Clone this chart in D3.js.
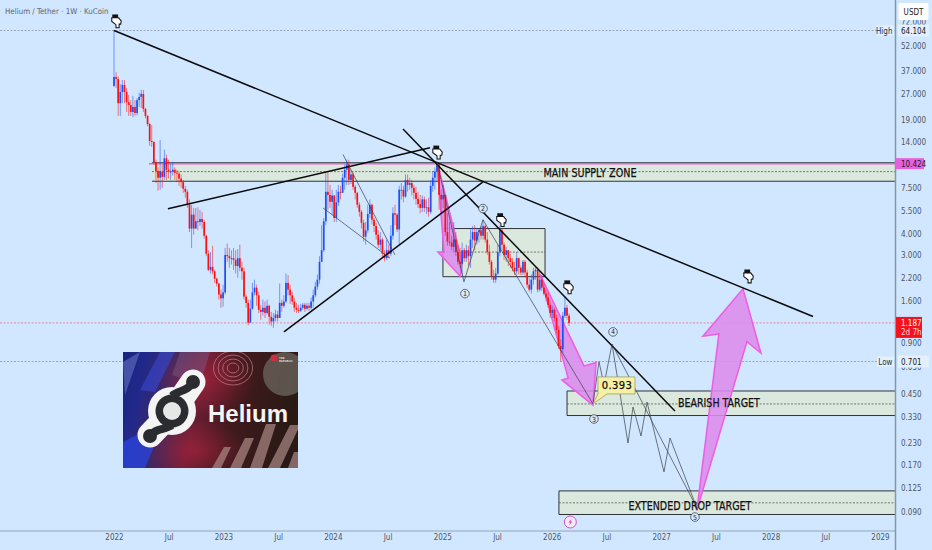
<!DOCTYPE html>
<html><head><meta charset="utf-8">
<script src="https://cdn.jsdelivr.net/npm/d3@7/dist/d3.min.js"></script>
<style>html,body{margin:0;padding:0;background:#d1e7ff;overflow:hidden}svg{display:block}</style>
</head><body><svg id="c" width="932" height="550"></svg>
<script>
const firstOpen = 30.1;
const closes = [34,33.1,23.8,27.7,30.5,27.7,24.1,23.2,21.1,22.6,20.8,24.8,25.9,27,22,20,17.9,14.2,14,10.6,
9.45,8.6,9.35,8.7,11.2,9.6,9.35,9.35,9.6,9.2,9.1,8.5,8.1,7.4,7.1,5.95,4.3,5.2,4.3,4.75,
4.7,4.9,4.7,3.9,3.05,2.45,2.55,2.4,2.17,2.03,1.75,1.66,1.8,3,2.95,2.87,2.87,2.8,2.58,2.87,
2.52,2.4,1.7,1.56,1.19,1.44,1.8,1.92,1.73,1.42,1.38,1.46,1.36,1.5,1.29,1.21,1.27,1.33,1.27,1.56,
1.5,1.59,2.05,1.87,1.73,1.59,1.46,1.42,1.4,1.46,1.52,1.44,1.5,1.46,1.59,1.73,1.95,2.14,2.73,3.2,
4.75,7.1,6.8,6.2,6.75,4.97,6.15,7.1,7,8.6,9.6,10.3,8.35,9,7.6,7,5.95,5.4,4.65,3.85,
4.2,5.25,5.95,4.85,4.45,3.95,3.45,3.7,3.05,2.87,3.2,3.05,3.9,5.3,5.2,4.25,7.3,7.3,6.65,8.35,
7.8,8,7.5,7,6.45,6,5.7,6.4,5.7,5.75,5.4,7.7,8.6,9.35,10.3,6.8,6.4,6.8,4.1,3.6,
3.55,3.35,3.7,3.12,2.73,2.66,3.2,2.87,3.2,2.95,3.7,4.1,3.65,4.1,4.2,3.9,4.45,3.7,3.12,2.73,
2.23,2.14,2.33,3.12,4.2,3.45,3,3.2,2.87,2.73,2.52,2.4,2.87,2.52,2.36,2.73,2.36,2,1.87,2.14,
2.4,2.45,1.87,2.14,1.92,1.77,1.68,1.52,1.36,1.42,1.27,1.08,0.865,0.83,1.31,1.46,1.31,1.187];
const highs = [64.104,36.3,34.3,30.9,32.6,32.6,29.3,26.6,24.8,26.3,24.8,25.5,27.4,28.5,28.5,22.3,20.2,18.2,17.7,14.2,
11,9.9,14.4,10.3,12.6,11.8,11,10.5,10.7,9.9,9.6,9.35,9,8.35,7.7,7.3,6.4,5.95,5.7,5.7,
5.75,5.55,5.4,4.85,3.95,3.2,3.12,3.4,2.45,2.2,2.05,1.87,2,3.3,3.5,3.3,3.2,3.3,3.2,3.25,
3.45,2.73,2.52,1.75,1.63,1.63,2.05,2.14,2,1.82,1.52,1.63,1.59,1.63,1.52,1.38,1.36,1.42,1.4,2.03,
1.63,1.73,2.33,2.28,2,1.82,1.68,1.56,1.52,1.54,1.56,1.56,1.56,1.56,1.68,1.87,2.08,2.3,2.95,4.5,
4.97,9.35,9.35,7.8,7.3,6.8,7.3,7.8,7.7,9.1,10.3,11,11,9.6,9.2,7.8,7.1,6.15,5.55,4.85,
4.7,5.95,6.4,6.05,4.97,4.65,4.2,4.1,3.8,3.2,3.7,3.45,4.5,5.75,5.95,5.3,7.7,8,7.7,9,
9,8.6,8.35,7.8,7.6,7.1,6.8,6.75,6.65,6.4,6.55,8.35,9.35,9.9,10.6,10.424,7.3,7.8,6.4,5.3,
4.7,3.9,4.7,4.1,3.45,3.3,3.55,3.3,3.45,3.4,4.3,4.45,4.5,4.3,4.3,4.45,4.85,4.55,4.1,3.45,
2.8,2.45,2.52,3.45,4.45,4.3,3.55,3.35,3.2,3.05,2.87,2.73,3.12,2.9,2.6,2.8,2.8,2.45,2.2,2.3,
2.52,2.52,2.52,2.4,2.28,2.03,1.87,1.8,1.59,1.5,1.46,1.33,1.14,0.95,1.38,1.7,1.52,1.35];
const lows = [29.7,29.3,20,20,23.8,23.8,21.1,20,20,19.7,20,20.2,22.6,22.3,21.1,19.4,17.4,13.3,13.1,10.3,
8,7.2,7.3,7.5,8.35,8.35,8.5,8.35,8.85,8.35,8.1,7.7,7.5,7,6.55,5.7,4.1,3.3,3.95,4.3,
4.2,4.45,4.3,3.75,2.95,2.4,2.33,2.3,2.05,1.95,1.63,1.46,1.48,1.75,2.73,2.52,2.63,2.45,2.33,2.2,
2.4,2.14,1.63,1.46,1.15,1.24,1.42,1.73,1.5,1.36,1.24,1.31,1.27,1.33,1.16,1.14,1.11,1.21,1.21,1.27,
1.38,1.46,1.56,1.73,1.54,1.52,1.38,1.36,1.36,1.38,1.42,1.38,1.42,1.4,1.42,1.46,1.68,1.87,2.03,2.73,
3.12,4.5,5.55,5.7,5.2,4.7,4.7,5.85,6.4,7.1,7.3,7.8,7.8,7.9,7.3,6.4,5.7,5.05,4.3,3.6,
3.45,4.05,4.97,4.55,4.1,3.7,3.3,3.2,2.9,2.75,2.8,2.87,2.95,3.7,4.5,4.1,3.45,6.4,6.15,6.55,
7.1,7.3,6.75,6.4,5.95,5.7,5.3,5.4,5.4,5.25,5.05,5.25,7.1,7.3,8.1,5.55,5.4,5.7,3.9,3.4,
3.4,3.2,3.12,2.95,2.63,2.52,2.23,2.73,2.73,2.58,2.52,3.3,3.2,3.45,3.55,3.7,3.7,3.55,3,2.63,
2.14,2.05,2.05,2.28,2.95,3.2,2.8,2.73,2.58,2.52,2.4,2.28,2.3,2.3,2.28,2.28,2.2,1.92,1.82,1.77,
2,2.14,1.8,1.82,1.84,1.73,1.59,1.46,1.27,1.27,1.21,1.03,0.83,0.701,0.79,1.27,1.24,1.14];

const priceTicks = [72,52,37,27,19,14,7.5,5.5,4,3,2.2,1.6,0.9,0.65,0.45,0.33,0.23,0.17,0.125,0.09];
const timeTicks = [2022,2022.5,2023,2023.5,2024,2024.5,2025,2025.5,2026,2026.5,2027,2027.5,2028,2028.5,2029];
const timeLabels = ["2022","Jul","2023","Jul","2024","Jul","2025","Jul","2026","Jul","2027","Jul","2028","Jul","2029"];
const high = 64.104, low = 0.701, last = 1.187, supply = 10.424;

const heavyLines = [
 [[2022,64.104],[2028.388,1.295]],
 [[2022.493,5.63],[2024.888,12.95]],
 [[2023.553,1.05],[2025.372,8.12]],
 [[2024.641,16.7],[2027.126,0.3566]]];
const thinLines = [
 [[2023.91,5.7],[2024.522,2.87]],
 [[2024.093,11.8],[2024.568,3.0]],
 [[2024.952,10.7],[2025.198,2.08],[2025.372,4.85],[2026.377,0.393],[2026.432,0.70],[2026.478,0.509],[2026.551,0.89],[2026.697,0.2307],[2026.743,0.377],[2026.816,0.2537],[2026.871,0.403],[2027.026,0.1555],[2027.081,0.247],[2027.327,0.0949]],
 [[2026.551,0.89],[2027.327,0.0949]]];
const arrows = [
 [[2024.952,10.7],[2025.18,2.73],[2025.162,2.25],[2024.961,3.12],[2025.016,3.12]],
 [[2025.893,2.3],[2026.295,0.66],[2026.405,0.69],[2026.377,0.387],[2026.094,0.545],[2026.15,0.56]],
 [[2027.327,0.0925],[2027.528,1.02],[2027.382,0.99],[2027.748,1.89],[2027.912,0.787],[2027.784,0.92]]];
const zoneStart = [2022.347,2025.006,2026.14,2026.066];
const zoneEnd   = [2029.137,2025.939,2029.137,2029.137];
const zoneTop   = [10.55,4.3,0.469,0.12];
const zoneBot   = [8.2,2.23,0.3356,0.087];
const zoneMid   = [9.35,3.12,0.393,0.102];
const zoneNames = ["MAIN SUPPLY ZONE","","BEARISH TARGET","EXTENDED DROP TARGET"];
const nameAt = [[2026.35,9.15],null,[2027.528,0.4],[2027.263,0.0976]];
const nameWidths = [93,0,82,123];
const waveNames = ["1","2","3","4","5"];
const waveAt = [[2025.207,1.77],[2025.372,5.65],[2026.386,0.32],[2026.56,1.05],[2027.309,0.084]];
const handsAt = [[2022.018,73],[2024.952,12.2],[2025.536,4.85],[2026.149,1.94],[2027.794,2.25]];

const svg = d3.select("#c");
const x = d3.scaleLinear().domain([2022,2029]).range([114,880]);
const y = d3.scaleLog().domain([64.104,0.09]).range([30.5,512]);
const weekYear = i => 2022 + i*7/365.25;
const pt = d => [x(d[0]),y(d[1])];
const bg="#d1e7ff";
const FONT="'DejaVu Sans Condensed','DejaVu Sans',sans-serif";
const axisInk="#4f5766";

svg.append("rect").attr("width",932).attr("height",550).attr("fill",bg);

const refs=[[high,"#8a94a8"],[low,"#8a94a8"],[last,"#f0707a"]];
svg.selectAll(".ref").data(refs).join("line").attr("x1",0).attr("x2",895)
  .attr("y1",d=>y(d[0])).attr("y2",d=>y(d[0])).attr("stroke",d=>d[1]).attr("stroke-width",.8).attr("stroke-dasharray","2 1.5");

zoneStart.forEach((s,i)=>{
  const g=svg.append("g");
  g.append("rect").attr("x",x(s)).attr("y",y(zoneTop[i])).attr("width",x(zoneEnd[i])-x(s)).attr("height",y(zoneBot[i])-y(zoneTop[i]))
    .attr("fill","#dbe8dd");
  [zoneTop[i],zoneBot[i]].forEach(v=>g.append("line").attr("x1",x(s)).attr("x2",x(zoneEnd[i])).attr("y1",y(v)).attr("y2",y(v)).attr("stroke","#30343a").attr("stroke-width",1));
  if(i>0) g.append("line").attr("x1",x(s)).attr("x2",x(s)).attr("y1",y(zoneTop[i])).attr("y2",y(zoneBot[i])).attr("stroke","#30343a").attr("stroke-width",1);
  if(i==1) g.append("line").attr("x1",x(zoneEnd[i])).attr("x2",x(zoneEnd[i])).attr("y1",y(zoneTop[i])).attr("y2",y(zoneBot[i])).attr("stroke","#30343a").attr("stroke-width",1);
  g.append("line").attr("x1",x(s)).attr("x2",x(zoneEnd[i])).attr("y1",y(zoneMid[i])).attr("y2",y(zoneMid[i])).attr("stroke","#555").attr("stroke-width",.8).attr("stroke-dasharray","2 1.5");
});
svg.append("line").attr("x1",149).attr("x2",895).attr("y1",y(supply)).attr("y2",y(supply)).attr("stroke","#e85fd8").attr("stroke-width",1.5);

const poly=d3.line().x(d=>x(d[0])).y(d=>y(d[1]));
svg.selectAll(".arrow").data(arrows).join("path").attr("d",d=>poly(d)+"Z")
  .attr("fill","#dc8cec").attr("fill-opacity",.88).attr("stroke","#ee5fe6").attr("stroke-width",1.6).attr("stroke-linejoin","miter");

const rows = closes.map((c,i)=>({i,o:i?closes[i-1]:firstOpen,c,h:highs[i],l:lows[i]}));
const col=d=>d.c>=d.o?"#1f4ff5":"#ff0f0f";
svg.append("g").selectAll("line").data(rows).join("line")
  .attr("x1",d=>x(weekYear(d.i))).attr("x2",d=>x(weekYear(d.i)))
  .attr("y1",d=>y(d.h)).attr("y2",d=>y(d.l)).attr("stroke",col).attr("stroke-width",.9).attr("stroke-opacity",.6);
svg.append("g").selectAll("rect").data(rows).join("rect")
  .attr("x",d=>x(weekYear(d.i))-.85).attr("width",1.7)
  .attr("y",d=>Math.min(y(d.o),y(d.c))).attr("height",d=>Math.max(.9,Math.abs(y(d.o)-y(d.c))))
  .attr("fill",col);

const ln=d3.line().x(d=>x(d[0])).y(d=>y(d[1]));
svg.selectAll(".hv").data(heavyLines).join("path").attr("d",ln).attr("fill","none").attr("stroke","#0a0a0a").attr("stroke-width",1.5);
svg.selectAll(".tn").data(thinLines).join("path").attr("d",ln).attr("fill","none").attr("stroke","#3a3f48").attr("stroke-width",.7);

zoneNames.forEach((t,i)=>{ if(!t) return;
  svg.append("text").attr("x",x(nameAt[i][0])).attr("y",y(nameAt[i][1])).attr("text-anchor","middle").attr("dominant-baseline","central")
    .attr("textLength",nameWidths[i]).attr("lengthAdjust","spacingAndGlyphs")
    .attr("font-family","'DejaVu Sans',sans-serif").attr("font-size",12).attr("fill","#111").attr("stroke","#111").attr("stroke-width",.25).text(t);
});

const w=svg.append("g").selectAll("g").data(waveAt).join("g").attr("transform",d=>`translate(${pt(d)})`);
w.append("circle").attr("r",4.3).attr("fill","#d9e9fb").attr("stroke","#333").attr("stroke-width",.7);
w.append("text").attr("text-anchor","middle").attr("y",2.5).attr("font-size",7).attr("font-family",FONT).attr("fill","#222").text((d,i)=>waveNames[i]);

const hand=svg.append("g").selectAll("g").data(handsAt).join("g").attr("transform",d=>`translate(${pt(d)}) scale(1.05)`);
hand.append("path").attr("d","M-4,-3 L2.5,-3 L5,0 L4.5,3 L3,3 L3,6.5 L0,6.5 L0,3.5 L-4,0.5 Z").attr("fill","#fff").attr("stroke","#111").attr("stroke-width",1);
hand.append("rect").attr("x",-3.5).attr("y",-6.2).attr("width",5.5).attr("height",3.2).attr("fill","#111");

const tip=pt([2026.377,0.393]);
svg.append("path").attr("d",`M${tip[0]+5},${tip[1]-27} h37 v17 h-28 L${tip} L${tip[0]+5},${tip[1]-10} Z`)
  .attr("fill","#f7f0a4").attr("stroke","#9aa060").attr("stroke-width",.8);
svg.append("text").attr("x",tip[0]+24).attr("y",tip[1]-15).attr("text-anchor","middle")
  .attr("font-family","'DejaVu Sans',sans-serif").attr("font-size",10).attr("fill","#111").attr("stroke","#111").attr("stroke-width",.25).attr("letter-spacing",.4).text(String(0.393));

// picture panel
const defs=svg.append("defs");
const lg=defs.append("linearGradient").attr("id","pic").attr("x1",0).attr("x2",1).attr("y1",0).attr("y2",.15);
[[0,"#18247f"],[.14,"#22288a"],[.3,"#40285f"],[.48,"#6a1e34"],[.68,"#431a1e"],[1,"#2a1a16"]].forEach(s=>lg.append("stop").attr("offset",s[0]).attr("stop-color",s[1]));
defs.append("clipPath").attr("id","picClip").append("rect").attr("x",123).attr("y",352).attr("width",175).attr("height",116);
const rg=defs.append("radialGradient").attr("id","glow");
rg.append("stop").attr("offset",0).attr("stop-color","#b82440").attr("stop-opacity",.55);
rg.append("stop").attr("offset",1).attr("stop-color","#b82440").attr("stop-opacity",0);
const pic=svg.append("g").attr("clip-path","url(#picClip)");
pic.append("rect").attr("x",123).attr("y",352).attr("width",175).attr("height",116).attr("fill","url(#pic)");
pic.append("ellipse").attr("cx",205).attr("cy",380).attr("rx",50).attr("ry",36).attr("fill","url(#glow)");
pic.append("ellipse").attr("cx",195).attr("cy",450).attr("rx",50).attr("ry",30).attr("fill","url(#glow)");
pic.append("path").attr("d","M123,468 L123,442 L165,420 L145,468Z").attr("fill","#2a44e0").attr("opacity",.75);
pic.append("path").attr("d","M123,362 L140,352 L125,395Z").attr("fill","#6a78c8").attr("opacity",.55);
pic.append("path").attr("d","M160,352 L175,352 L155,392 L140,390Z").attr("fill","#3848d0").attr("opacity",.6);
pic.append("path").attr("d","M180,352 L210,352 L200,385 L172,375Z").attr("fill","#7d5c8a").attr("opacity",.45);
pic.append("circle").attr("cx",285).attr("cy",374).attr("r",22).attr("fill","#7c7a72").attr("opacity",.6);
[5,9,13,17].forEach(r=>pic.append("ellipse").attr("cx",233).attr("cy",368).attr("rx",r*1.15).attr("ry",r).attr("fill","none").attr("stroke","#c98892").attr("stroke-width",1).attr("opacity",.65));
[[250,468,16,424,10],[268,468,22,425,10],[230,468,15,438,9],[212,468,12,447,7],[288,468,6,452,9]].forEach(b=>{
  pic.append("path").attr("d",`M${b[0]},${b[1]} L${b[0]+b[2]},${b[3]} L${b[0]+b[2]+b[4]},${b[3]} L${b[0]+b[4]+2},${b[1]}Z`).attr("fill","#ad8a86").attr("opacity",.7);
});
pic.append("path").attr("d","M150,435 L172,412 L193,382").attr("stroke","#f4f4f4").attr("stroke-width",25).attr("stroke-linecap","round").attr("fill","none");
pic.append("circle").attr("cx",172).attr("cy",411).attr("r",24).attr("fill","#f4f4f4");
pic.append("circle").attr("cx",172).attr("cy",411).attr("r",16.5).attr("fill","#2a2c30");
pic.append("circle").attr("cx",193).attr("cy",382).attr("r",7).attr("fill","#2a2c30");
pic.append("circle").attr("cx",150).attr("cy",436).attr("r",7).attr("fill","#2a2c30");
pic.append("path").attr("d","M150,436 C155,428 165,430 172,425 M193,382 C188,392 178,390 172,396").attr("stroke","#2a2c30").attr("stroke-width",8).attr("fill","none");
pic.append("circle").attr("cx",172).attr("cy",411).attr("r",9).attr("fill","#e6e8e8");
pic.append("text").attr("x",208).attr("y",422).attr("font-family","'Liberation Sans',Arial,sans-serif").attr("font-weight",700).attr("font-size",24).attr("fill","#f4f4f4").text("Helium");
pic.append("circle").attr("cx",274).attr("cy",358).attr("r",3.5).attr("fill","#c83040");
pic.append("text").attr("x",279).attr("y",359).attr("font-size",2.8).attr("font-weight",700).attr("fill","#ddd").attr("font-family",FONT).text("THE");
pic.append("text").attr("x",279).attr("y",362).attr("font-size",2.8).attr("font-weight",700).attr("fill","#ddd").attr("font-family",FONT).text("REPUBLIC");

const bolt=svg.append("g").attr("transform",`translate(${x(2026.17)},522)`);
bolt.append("circle").attr("r",6).attr("fill","#f4eafa").attr("stroke","#d64fc8").attr("stroke-width",1);
bolt.append("path").attr("d","M1.2,-3.6 L-2,0.6 L-0.2,0.6 L-1.2,3.6 L2,-0.6 L0.2,-0.6 Z").attr("fill","#d64fc8");

svg.append("rect").attr("y",531).attr("width",932).attr("height",19).attr("fill",bg);
svg.append("rect").attr("x",896).attr("width",36).attr("height",550).attr("fill",bg);
svg.append("line").attr("x1",0).attr("x2",895).attr("y1",531).attr("y2",531).attr("stroke","#8496aa").attr("stroke-width",.8);
svg.append("line").attr("x1",895.5).attr("x2",895.5).attr("y1",0).attr("y2",550).attr("stroke","#8496aa").attr("stroke-width",1.5);

const ya=d3.axisRight(y).tickValues(priceTicks).tickFormat(d3.format(".3f")).tickSize(0).tickPadding(0);
const yg=svg.append("g").attr("transform","translate(901,0)").call(ya);
yg.select(".domain").remove();
yg.selectAll("text").attr("font-family",FONT).attr("font-size",8).attr("fill",axisInk);

const xa=d3.axisBottom(x).tickValues(timeTicks).tickFormat((d,i)=>timeLabels[i]).tickSize(0).tickPadding(0);
const xg=svg.append("g").attr("transform","translate(0,534)").call(xa);
xg.select(".domain").remove();
xg.selectAll("text").attr("font-family",FONT).attr("font-size",8).attr("fill",axisInk);

function lab(v,name){
  const Y=y(v);
  svg.append("rect").attr("x",898).attr("y",Y-6).attr("width",31).attr("height",12).attr("fill","#e2f0ff");
  svg.append("text").attr("x",901).attr("y",Y+3).attr("font-family",FONT).attr("font-size",8).attr("fill","#1a1d24").text(d3.format(".3f")(v));
  svg.append("rect").attr("x",877).attr("y",Y-5).attr("width",17).attr("height",10).attr("fill","#e2f0ff");
  svg.append("text").attr("x",892.5).attr("y",Y+3).attr("text-anchor","end").attr("font-family",FONT).attr("font-size",8).attr("fill","#333").text(name);
}
lab(high,"High"); lab(low,"Low");
svg.append("rect").attr("x",896).attr("y",y(supply)-5.5).attr("width",28).attr("height",11).attr("fill","#e95fe0");
svg.append("text").attr("x",901).attr("y",y(supply)+3).attr("font-family",FONT).attr("font-size",8).attr("fill","#222").text(d3.format(".3f")(supply));
svg.append("rect").attr("x",896).attr("y",y(last)-6).attr("width",26).attr("height",21).attr("fill","#f5121d");
svg.append("text").attr("x",901).attr("y",y(last)+3).attr("font-family",FONT).attr("font-size",8).attr("fill","#fff").text(d3.format(".3f")(last));
svg.append("text").attr("x",901).attr("y",y(last)+12).attr("font-family",FONT).attr("font-size",8).attr("fill","#ffd5d8").text("2d 7h");
svg.append("rect").attr("x",898.5).attr("y",3).attr("width",30).attr("height",17).attr("rx",2).attr("fill","#fff");
svg.append("text").attr("x",913.5).attr("y",15).attr("text-anchor","middle").attr("font-family",FONT).attr("font-size",8).attr("fill","#222").text("USDT");

svg.append("text").attr("x",5).attr("y",14).attr("font-family",FONT).attr("font-size",7.9).attr("fill","#5d6470").text("Helium / Tether · 1W · KuCoin");
</script></body></html>
